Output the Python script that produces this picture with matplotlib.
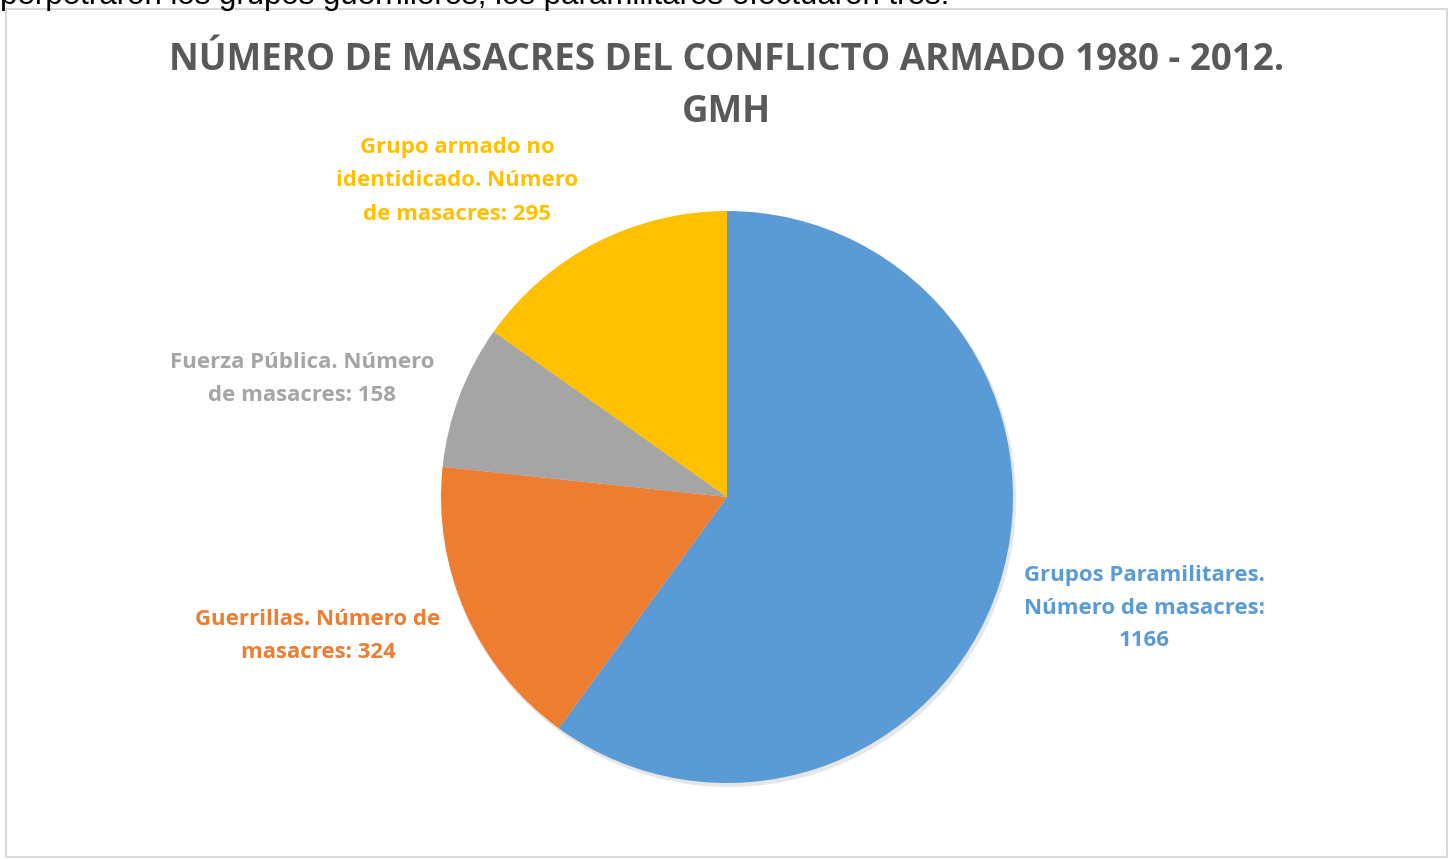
import matplotlib.pyplot as plt
from matplotlib.patches import Rectangle

categorias = ["Grupos Paramilitares", "Guerrillas", "Fuerza Pública", "Grupo armado no identidicado"]
masacres = [1166, 324, 158, 295]
colores = ["#5B9BD5", "#ED7D31", "#A5A5A5", "#FFC000"]
etiquetas = [
    "Grupos Paramilitares.\nNúmero de masacres:\n1166",
    "Guerrillas. Número de\nmasacres: 324",
    "Fuerza Pública. Número\nde masacres: 158",
    "Grupo armado no\nidentidicado. Número\nde masacres: 295",
]
pos_etiquetas = [(1144, 608), (318, 636), (302, 379), (457, 181)]

W, H = 1453, 860
fig = plt.figure(figsize=(W / 100, H / 100), dpi=100)
ax = fig.add_axes([0, 0, 1, 1])

fuente = ["Open Sans", "DejaVu Sans"]

# marco del grafico
ax.add_patch(Rectangle((6, H - 857), 1441, 848, fill=False, edgecolor="#D9D9D9", linewidth=1.5))

# texto del documento cortado arriba
ax.text(0, H - 4, "perpetraron los grupos guerrilleros, los paramilitares efectuaron tres.",
        fontsize=22.5, family="Liberation Sans", color="black", va="baseline", ha="left")

# sombra
ax.pie(masacres, colors=["#E6E6E6"] * 4, startangle=90, counterclock=False,
       center=(729, H - 500), radius=287, wedgeprops=dict(linewidth=0))
ax.pie(masacres, colors=colores, startangle=90, counterclock=False,
       center=(727, H - 497), radius=286, wedgeprops=dict(linewidth=0))
ax.set_xlim(0, W)
ax.set_ylim(0, H)
ax.set_aspect("equal")
ax.axis("off")

ax.text(727, H - 86, "NÚMERO DE MASACRES DEL CONFLICTO ARMADO 1980 - 2012.\nGMH",
        ha="center", va="center", fontsize=26.5, fontweight="bold", color="#595959",
        family=fuente, linespacing=1.45)

for txt, (x, y), c in zip(etiquetas, pos_etiquetas, colores):
    ax.text(x, H - y, txt, ha="center", va="center", fontsize=16, fontweight="bold",
            color=c, family=fuente, linespacing=1.75)

fig.savefig("out.png", dpi=100)
